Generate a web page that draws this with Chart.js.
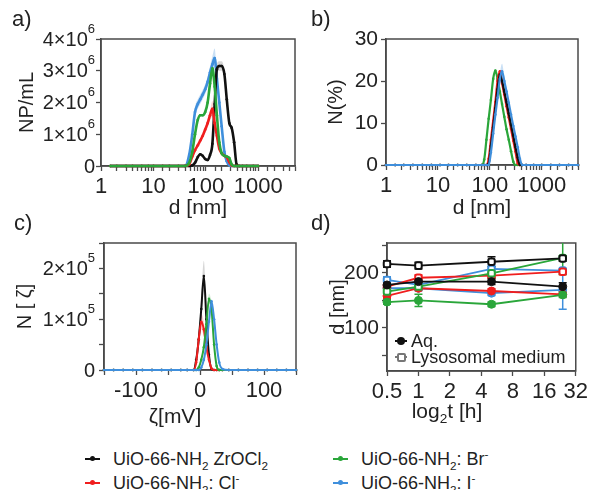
<!DOCTYPE html>
<html>
<head>
<meta charset="utf-8">
<script src="https://cdn.jsdelivr.net/npm/chart.js"></script>
<title>UiO-66-NH2 size and zeta</title>
<style>
  body { margin: 0; background: #fff; }
  .fig { position: relative; width: 591px; height: 490px; overflow: hidden;
         font-family: 'Liberation Sans', Arial, sans-serif; color: #222; }
  .fig canvas { position: absolute; }
  .tag { position: absolute; font-size: 22px; line-height: 1; z-index: 2; }
  .xt { position: absolute; font-size: 21px; line-height: 1; transform: translate(-50%, -50%); white-space: nowrap; z-index: 2; }
  .key { position: absolute; font-size: 18px; line-height: 20px; white-space: nowrap; padding-left: 28px; z-index: 2; }
  .key .mk { position: absolute; left: 0; top: 10px; width: 15px; height: 2px; margin-top: -1px; }
  .key .mk::after { content: ''; position: absolute; left: 5px; top: -2px; width: 5px; height: 5px; border-radius: 50%; background: inherit; }
  .dkey { position: absolute; left: 395px; font-size: 18px; line-height: 16px; white-space: nowrap; padding-left: 16px; z-index: 2; }
  .dkey .mk { position: absolute; left: 0; top: 8px; width: 12px; height: 2px; margin-top: -1px; }
  .dkey .dot { position: absolute; left: 2px; top: -3px; width: 8px; height: 8px; border-radius: 50%; }
  .dkey .sq { position: absolute; left: 2px; top: -3px; width: 5px; height: 5px; border: 2px solid #777; background: #fff; border-radius: 2px; }
  sub, sup { font-size: 65%; line-height: 0; }
</style>
</head>
<body>
<div class="fig">
  <canvas id="chartA" width="300" height="230" style="left:0;top:0"></canvas>
  <canvas id="chartB" width="291" height="230" style="left:300px;top:0"></canvas>
  <canvas id="chartC" width="300" height="220" style="left:0;top:215px"></canvas>
  <canvas id="chartD" width="291" height="220" style="left:300px;top:215px"></canvas>

  <div class="tag" style="left:12px;top:8px">a)</div>
  <div class="tag" style="left:311px;top:8px">b)</div>
  <div class="tag" style="left:14px;top:212px">c)</div>
  <div class="tag" style="left:311px;top:212px">d)</div>

  <div class="xt" style="left:175px;top:415px">ζ[mV]</div>
  <div class="xt" style="left:447px;top:410px">log<sub>2</sub>t [h]</div>

  <div class="dkey" style="top:333px"><span class="mk" style="background:#111"><span class="dot" style="background:#111"></span></span>Aq.</div>
  <div class="dkey" style="top:349px"><span class="mk" style="background:#777"><span class="sq"></span></span>Lysosomal medium</div>

  <div class="key" style="left:85px;top:449px"><span class="mk" style="background:#111"></span>UiO-66-NH<sub>2</sub> ZrOCl<sub>2</sub></div>
  <div class="key" style="left:85px;top:473px"><span class="mk" style="background:#f01e1e"></span>UiO-66-NH<sub>2</sub>: Cl<sup>-</sup></div>
  <div class="key" style="left:333px;top:449px"><span class="mk" style="background:#2aa63a"></span>UiO-66-NH<sub>2</sub>: Br<sup>-</sup></div>
  <div class="key" style="left:333px;top:473px"><span class="mk" style="background:#3f8fdc"></span>UiO-66-NH<sub>2</sub>: I<sup>-</sup></div>
</div>

<script>
  // a) NTA size distribution (NP/mL vs d)
  const sizesA = [1.5, 2, 3, 4, 6, 8, 10, 15, 20, 30, 40, 48, 55, 62, 70, 78, 87, 97, 108, 120, 133, 147, 162, 180, 200, 225, 250, 280, 310, 345, 385, 430, 500, 600, 800, 1000];
  const npZr = [0,0,0,0,0,0,0,0,0,0,0, 0,0.02e6,0.1e6,0.28e6,0.37e6,0.32e6,0.22e6,0.19e6,0.35e6,0.7e6,1.95e6,3.05e6,3.15e6,3.15e6,2.9e6,2.1e6,1.35e6,1.2e6,0.75e6,0.05e6,0, 0,0,0,0];
  const npCl = [0,0,0,0,0,0,0,0,0,0,0, 0.05e6,0.3e6,0.5e6,0.65e6,0.8e6,0.95e6,1.15e6,1.35e6,1.6e6,1.8e6,1.35e6,0.95e6,0.55e6,0.4e6,0.32e6,0.28e6,0.12e6,0.02e6, 0,0,0,0,0,0,0];
  const npBr = [0,0,0,0,0,0,0,0,0,0,0, 0.1e6,0.45e6,1.0e6,1.45e6,1.6e6,1.6e6,1.7e6,2.0e6,2.6e6,3.08e6,2.5e6,1.6e6,0.75e6,0.4e6,0.32e6,0.3e6,0.25e6,0.05e6, 0,0,0,0,0,0,0];
  const npI  = [0,0,0,0,0,0,0,0,0,0,0, 0.35e6,1.0e6,1.7e6,1.95e6,2.1e6,2.25e6,2.42e6,2.65e6,2.95e6,3.2e6,3.4e6,2.75e6,2.0e6,1.25e6,0.45e6,0.15e6,0.02e6, 0,0,0,0,0,0,0,0];
  const npZrErr = [0,0,0,0,0,0,0,0,0,0,0, 0,0,0,0,0,0,0,0, 0.05e6,0.1e6,0.15e6,0.15e6,0.15e6,0.15e6,0.12e6,0.1e6, 0,0,0,0,0,0,0,0,0];
  const npClErr = [0,0,0,0,0,0,0,0,0,0,0,0,0,0,0,0,0, 0.1e6,0.15e6,0.15e6,0.25e6,0.15e6, 0,0,0,0,0,0,0,0,0,0,0,0,0,0];
  const npBrErr = [0,0,0,0,0,0,0,0,0,0,0,0,0,0,0,0,0,0,0, 0.1e6,0.1e6,0.1e6, 0,0,0,0,0,0,0,0,0,0,0,0,0,0];
  const npIErr  = [0,0,0,0,0,0,0,0,0,0,0, 0, 0.1e6,0.15e6,0.15e6,0.15e6,0.15e6,0.15e6,0.15e6,0.2e6,0.25e6,0.3e6,0.2e6,0.1e6, 0,0,0,0,0,0,0,0,0,0,0,0];

  // b) DLS number distribution (%)
  const sizesB = [1, 1.5, 2.2, 3.3, 5, 7.5, 11, 16, 24, 36, 54, 70, 78, 86, 95, 105, 116, 128, 141, 156, 172, 190, 210, 232, 256, 283, 312, 345, 380, 420, 500, 700, 1000, 1500, 2200, 3300, 5000];
  const pctZr = [0,0,0,0,0,0,0,0,0,0,0, 0,0,0,0.3,4.5,9,13.5,18,21.5,20,17.5,15,12.3,9.6,7,4.3,1.8,0,0, 0,0,0,0,0,0,0];
  const pctCl = [0,0,0,0,0,0,0,0,0,0,0, 0,0,0,1.5,6,10.5,15,20,22.3,19.5,16.8,14,11.3,8.6,5.8,3.2,0.4,0,0, 0,0,0,0,0,0,0];
  const pctBr = [0,0,0,0,0,0,0,0,0,0,0, 0,1.3,6,11,15.5,20.5,22.5,20.5,17.5,14.5,11.5,8.5,6,3.3,0.8,0,0,0,0, 0,0,0,0,0,0,0];
  const pctI  = [0,0,0,0,0,0,0,0,0,0,0, 0,0,0,0,3,7.5,12,16,20.5,22.3,20,17.5,14.8,12,9.3,6.8,4.2,1.5,0, 0,0,0,0,0,0,0];
  const pctIErr = [0,0,0,0,0,0,0,0,0,0,0, 0,0,0,0,0,0,0.5,0.8,1.2,1.8,1.2,0.8,0.5,0,0,0,0,0,0, 0,0,0,0,0,0,0];

  // c) zeta potential distribution
  const zetas = [-150, -135, -120, -105, -90, -75, -60, -45, -30, -20, -10, -6, -2, 2, 6, 10, 14, 18, 22, 26, 30, 35, 45, 60, 75, 90, 105, 120, 135, 150];
  const zZr = [0,0,0,0,0,0,0,0,0,0, 0,0.2e5,0.6e5,1.2e5,1.85e5,1.0e5,0.3e5,0.02e5,0,0,0,0, 0,0,0,0,0,0,0,0];
  const zCl = [0,0,0,0,0,0,0,0,0,0, 0,0.15e5,0.6e5,0.95e5,0.8e5,0.45e5,0.2e5,0.03e5,0,0,0,0, 0,0,0,0,0,0,0,0];
  const zBr = [0,0,0,0,0,0,0,0,0,0, 0,0,0.05e5,0.2e5,0.45e5,0.9e5,1.4e5,1.2e5,0.5e5,0.08e5,0,0, 0,0,0,0,0,0,0,0];
  const zI  = [0,0,0,0,0,0,0,0,0,0, 0,0,0,0.05e5,0.2e5,0.5e5,0.95e5,1.35e5,1.0e5,0.5e5,0.15e5,0.02e5, 0,0,0,0,0,0,0,0];
  const zZrErr = [0,0,0,0,0,0,0,0,0,0, 0,0.1e5,0.2e5,0.25e5,0.3e5,0.2e5,0.1e5,0,0,0,0,0, 0,0,0,0,0,0,0,0];
  const zClErr = [0,0,0,0,0,0,0,0,0,0, 0,0.05e5,0.1e5,0.15e5,0.15e5,0.1e5,0.05e5,0,0,0,0,0, 0,0,0,0,0,0,0,0];
  const zBrErr = [0,0,0,0,0,0,0,0,0,0, 0,0,0,0,0,0.05e5,0.1e5,0.1e5,0.05e5,0,0,0, 0,0,0,0,0,0,0,0];
  const zIErr  = [0,0,0,0,0,0,0,0,0,0, 0,0,0,0,0,0,0.05e5,0.05e5,0.05e5,0,0,0, 0,0,0,0,0,0,0,0];

  // d) size over time, water (Aq.) vs lysosomal medium
  const times = [0.5, 1, 5, 24];
  const timeTicks = [0.5, 1, 2, 4, 8, 16, 32];
  const zrAq = [178, 184, 184, 175],  zrLyso = [216, 213, 220, 226];
  const clAq = [158, 172, 167, 161],  clLyso = [175, 191, 195, 202];
  const brAq = [147, 150, 143, 160],  brLyso = [166, 175, 199, 227];
  const iAq  = [172, 172, 163, 169],  iLyso  = [187, 178, 207, 204];
  const zrAqErr = [7, 5, 5, 7],  zrLysoErr = [6, 6, 9, 5];
  const clAqErr = [4, 4, 4, 4],  clLysoErr = [5, 5, 5, 5];
  const brAqErr = [4, 11, 4, 5], brLysoErr = [4, 5, 8, 30];
  const iAqErr  = [4, 4, 4, 35], iLysoErr  = [6, 4, 6, 4];

  const BLACK = '#111', RED = '#f01e1e', GREEN = '#2aa63a', BLUE = '#3f8fdc';
  const AX = '#4a4a4a';

  Chart.defaults.font.family = "'Liberation Sans', Arial, sans-serif";
  Chart.defaults.color = '#222';

  function pts(xs, ys) { return xs.map((x, i) => ({ x: x, y: ys[i] })); }

  function curve(xs, ys, color, width, order) {
    return { data: pts(xs, ys), borderColor: color, backgroundColor: color, borderWidth: width,
      pointRadius: 1.3, pointBorderWidth: 0, pointBackgroundColor: color, fill: false,
      cubicInterpolationMode: 'monotone', order: order, clip: 6 };
  }

  function band(xs, ys, err, color) {
    const hi = xs.map((x, i) => ({ x: x, y: ys[i] + err[i] }));
    const lo = xs.map((x, i) => ({ x: x, y: Math.max(0, ys[i] - err[i]) }));
    return [
      { data: hi, borderWidth: 0, pointRadius: 0, borderColor: 'rgba(0,0,0,0)', fill: false, cubicInterpolationMode: 'monotone', order: 20 },
      { data: lo, borderWidth: 0, pointRadius: 0, borderColor: 'rgba(0,0,0,0)', backgroundColor: color, fill: '-1', cubicInterpolationMode: 'monotone', order: 20 }
    ];
  }

  function timeLine(ys, errs, color, open, order) {
    return { data: pts(times, ys), errors: errs, borderColor: color, backgroundColor: open ? '#fff' : color,
      pointBackgroundColor: open ? '#fff' : color, pointBorderColor: color, pointBorderWidth: open ? 2 : 1,
      pointStyle: open ? 'rectRounded' : 'circle', pointRadius: open ? 3.8 : 4, borderWidth: 1.8, fill: false, order: order, clip: 8 };
  }

  function axis(o) {
    return Object.assign({
      border: { color: AX, width: 1.5 },
      grid: { drawOnChartArea: false, tickLength: 5, tickColor: AX, tickWidth: 1.3 }
    }, o);
  }

  function decadeLabel(v) {
    const l = Math.log10(v);
    return Math.abs(l - Math.round(l)) < 1e-6 ? String(v) : '';
  }

  // box around the plot area
  const frame = {
    id: 'frame',
    beforeDatasetsDraw(chart) {
      const { ctx, chartArea: a } = chart;
      ctx.save();
      ctx.strokeStyle = AX;
      ctx.lineWidth = 1.5;
      ctx.strokeRect(a.left, a.top, a.right - a.left, a.bottom - a.top);
      ctx.restore();
    }
  };

  // y labels like 2x10^6 with a raised exponent
  const sciTicks = {
    id: 'sciTicks',
    afterDraw(chart, args, opts) {
      if (!opts.major) return;
      const y = chart.scales.y, ctx = chart.ctx;
      ctx.save();
      ctx.fillStyle = '#222';
      ctx.textBaseline = 'middle';
      ctx.textAlign = 'right';
      y.ticks.forEach(t => {
        const m = t.value / opts.major;
        if (Math.abs(m - Math.round(m)) > 1e-6) return;
        const py = y.getPixelForValue(t.value);
        const right = y.right - opts.gap;
        if (Math.round(m) === 0) {
          ctx.font = "20px 'Liberation Sans', Arial, sans-serif";
          ctx.fillText('0', right, py + 1);
          return;
        }
        ctx.font = "13px 'Liberation Sans', Arial, sans-serif";
        const ew = ctx.measureText(opts.exp).width;
        ctx.fillText(opts.exp, right, py - 10);
        ctx.font = "20px 'Liberation Sans', Arial, sans-serif";
        ctx.fillText(Math.round(m) + '×10', right - ew, py + 1);
      });
      ctx.restore();
    }
  };

  // vertical error bars for panel d
  const errorBars = {
    id: 'errorBars',
    beforeDatasetsDraw(chart) {
      const { ctx, chartArea: a, scales: { x, y } } = chart;
      ctx.save();
      ctx.beginPath();
      ctx.rect(a.left - 6, a.top, a.right - a.left + 12, a.bottom - a.top);
      ctx.clip();
      ctx.lineWidth = 1.5;
      chart.data.datasets.forEach(ds => {
        if (!ds.errors) return;
        ctx.strokeStyle = ds.borderColor;
        ds.data.forEach((p, i) => {
          const px = x.getPixelForValue(p.x);
          const top = y.getPixelForValue(p.y + ds.errors[i]);
          const bot = y.getPixelForValue(p.y - ds.errors[i]);
          ctx.beginPath();
          ctx.moveTo(px, top); ctx.lineTo(px, bot);
          ctx.moveTo(px - 4, top); ctx.lineTo(px + 4, top);
          ctx.moveTo(px - 4, bot); ctx.lineTo(px + 4, bot);
          ctx.stroke();
        });
      });
      ctx.restore();
    }
  };

  const common = { responsive: false, animation: false, events: [] };

  // a)
  new Chart(document.getElementById('chartA'), {
    type: 'line',
    data: { datasets: [
      ...band(sizesA, npZr, npZrErr, 'rgba(0,0,0,0.16)'),
      ...band(sizesA, npCl, npClErr, 'rgba(240,30,30,0.2)'),
      ...band(sizesA, npBr, npBrErr, 'rgba(42,166,58,0.2)'),
      ...band(sizesA, npI, npIErr, 'rgba(63,143,220,0.28)'),
      curve(sizesA, npZr, BLACK, 2.6, 2),
      curve(sizesA, npCl, RED, 2.6, 1),
      curve(sizesA, npBr, GREEN, 2.6, 0),
      curve(sizesA, npI, BLUE, 2.6, 3)
    ] },
    options: Object.assign({}, common, {
      layout: { padding: { left: 0, top: 39, right: 5, bottom: 0 } },
      scales: {
        x: axis({ type: 'logarithmic', min: 1, max: 5000,
          afterFit: s => { s.height = 64; },
          ticks: { autoSkip: false, maxRotation: 0, padding: 3, font: { size: 22 }, callback: decadeLabel },
          title: { display: true, text: 'd [nm]', font: { size: 21 }, padding: { top: 0, bottom: 9 } } }),
        y: axis({ min: 0, max: 4e6,
          afterFit: s => { s.width = 101; },
          ticks: { stepSize: 1e6, display: false },
          title: { display: true, text: 'NP/mL', font: { size: 20 }, padding: { top: 15, bottom: 0 } } })
      },
      plugins: { legend: { display: false }, tooltip: { enabled: false },
        sciTicks: { major: 1e6, exp: '6', gap: 6 } }
    }),
    plugins: [frame, sciTicks]
  });

  // b)
  new Chart(document.getElementById('chartB'), {
    type: 'line',
    data: { datasets: [
      ...band(sizesB, pctI, pctIErr, 'rgba(63,143,220,0.28)'),
      curve(sizesB, pctZr, BLACK, 2.2, 1),
      curve(sizesB, pctCl, RED, 2.2, 2),
      curve(sizesB, pctBr, GREEN, 2.2, 3),
      curve(sizesB, pctI, BLUE, 2.2, 0)
    ] },
    options: Object.assign({}, common, {
      layout: { padding: { left: 0, top: 39, right: 13, bottom: 0 } },
      scales: {
        x: axis({ type: 'logarithmic', min: 1, max: 5000,
          afterFit: s => { s.height = 65; },
          ticks: { autoSkip: false, maxRotation: 0, padding: 3, font: { size: 22 }, callback: decadeLabel },
          title: { display: true, text: 'd [nm]', font: { size: 21 }, padding: { top: 0, bottom: 9 } } }),
        y: axis({ min: 0, max: 30,
          afterFit: s => { s.width = 86; },
          ticks: { stepSize: 5, padding: 3, font: { size: 21 }, callback: v => (v % 10 === 0 ? String(v) : '') },
          title: { display: true, text: 'N(%)', font: { size: 20 }, padding: { top: 24, bottom: 0 } } })
      },
      plugins: { legend: { display: false }, tooltip: { enabled: false } }
    }),
    plugins: [frame]
  });

  // c)
  new Chart(document.getElementById('chartC'), {
    type: 'line',
    data: { datasets: [
      ...band(zetas, zZr, zZrErr, 'rgba(0,0,0,0.16)'),
      ...band(zetas, zCl, zClErr, 'rgba(240,30,30,0.22)'),
      ...band(zetas, zBr, zBrErr, 'rgba(42,166,58,0.2)'),
      ...band(zetas, zI, zIErr, 'rgba(63,143,220,0.25)'),
      curve(zetas, zZr, BLACK, 2, 3),
      curve(zetas, zCl, RED, 2, 2),
      curve(zetas, zBr, GREEN, 2, 1),
      curve(zetas, zI, BLUE, 2, 0)
    ] },
    options: Object.assign({}, common, {
      layout: { padding: { left: 0, top: 28, right: 3, bottom: 0 } },
      scales: {
        x: axis({ type: 'linear', min: -150, max: 150,
          afterFit: s => { s.height = 65; },
          ticks: { stepSize: 50, autoSkip: false, maxRotation: 0, padding: 3, font: { size: 22 },
            callback: v => (v % 100 === 0 ? String(v) : '') } }),
        y: axis({ min: 0, max: 2.5e5,
          afterFit: s => { s.width = 104; },
          ticks: { stepSize: 0.5e5, display: false },
          title: { display: true, text: 'N [ ζ]', font: { size: 20 }, padding: { top: 13, bottom: 0 } } })
      },
      plugins: { legend: { display: false }, tooltip: { enabled: false },
        sciTicks: { major: 1e5, exp: '5', gap: 9 } }
    }),
    plugins: [frame, sciTicks]
  });

  // d)
  new Chart(document.getElementById('chartD'), {
    type: 'line',
    data: { datasets: [
      timeLine(zrLyso, zrLysoErr, BLACK, true, 0),
      timeLine(zrAq, zrAqErr, BLACK, false, 1),
      timeLine(clLyso, clLysoErr, RED, true, 4),
      timeLine(clAq, clAqErr, RED, false, 5),
      timeLine(brLyso, brLysoErr, GREEN, true, 2),
      timeLine(brAq, brAqErr, GREEN, false, 3),
      timeLine(iLyso, iLysoErr, BLUE, true, 6),
      timeLine(iAq, iAqErr, BLUE, false, 7)
    ] },
    options: Object.assign({}, common, {
      layout: { padding: { left: 0, top: 28, right: 13, bottom: 0 } },
      scales: {
        x: axis({ type: 'logarithmic', min: 0.5, max: 32,
          afterFit: s => { s.height = 64; },
          afterBuildTicks: s => { s.ticks = timeTicks.map(v => ({ value: v })); },
          ticks: { autoSkip: false, maxRotation: 0, padding: 3, font: { size: 22 }, callback: v => String(v) } }),
        y: axis({ min: 22, max: 254,
          afterFit: s => { s.width = 87; },
          afterBuildTicks: s => { s.ticks = [50, 100, 150, 200, 250].map(v => ({ value: v })); },
          ticks: { padding: 3, font: { size: 21 }, callback: v => (v % 100 === 0 ? String(v) : '') },
          title: { display: true, text: 'd [nm]', font: { size: 20 }, padding: { top: 26, bottom: 0 } } })
      },
      plugins: { legend: { display: false }, tooltip: { enabled: false } }
    }),
    plugins: [frame, errorBars]
  });
</script>
</body>
</html>
